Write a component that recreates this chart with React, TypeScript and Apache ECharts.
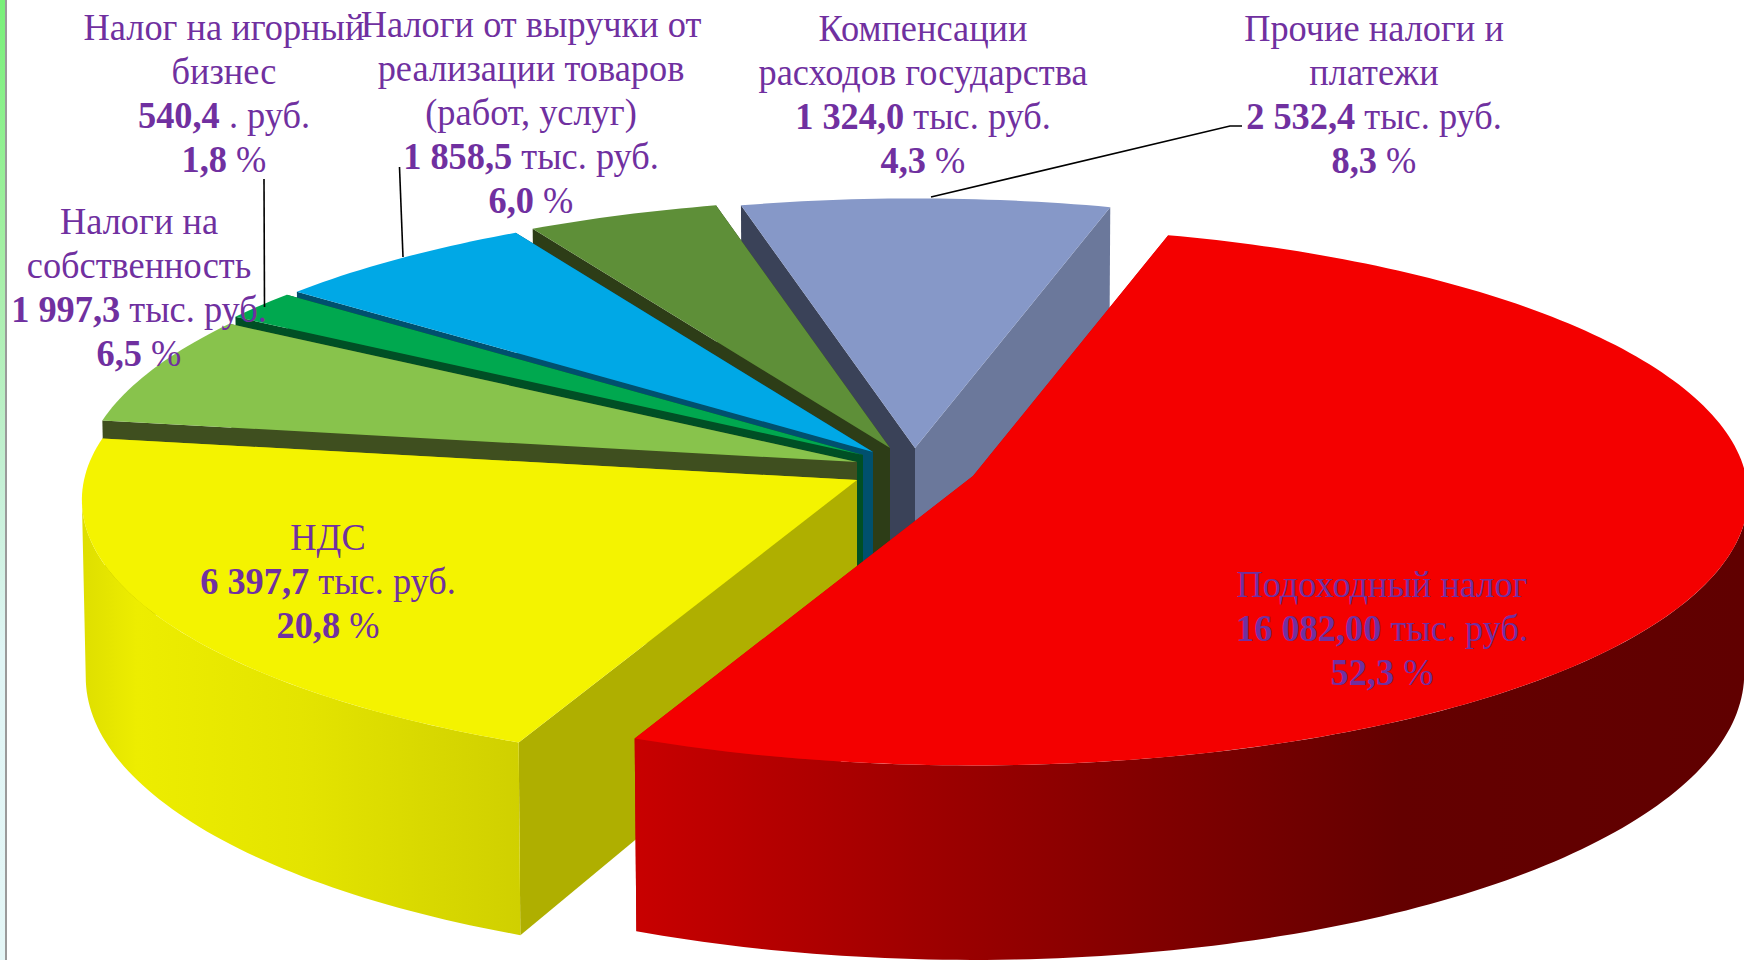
import React, { useEffect, useRef } from "react";
import * as echarts from "echarts";

const categories = [
  "Подоходный налог",
  "НДС",
  "Налоги на собственность",
  "Налог на игорный бизнес",
  "Налоги от выручки от реализации товаров (работ, услуг)",
  "Компенсации расходов государства",
  "Прочие налоги и платежи",
];
const seriesValues = [16082.0, 6397.7, 1997.3, 540.4, 1858.5, 1324.0, 2532.4];
const valueLabels = ["16 082,00", "6 397,7", "1 997,3", "540,4", "1 858,5", "1 324,0", "2 532,4"];
const unitLabels = [" тыс. руб.", " тыс. руб.", " тыс. руб.", " . руб.", " тыс. руб.", " тыс. руб.", " тыс. руб."];
const percentLabels = ["52,3", "20,8", "6,5", "1,8", "6,0", "4,3", "8,3"];
const nameLines = [
  ["Подоходный налог"],
  ["НДС"],
  ["Налоги на", "собственность"],
  ["Налог на игорный", "бизнес"],
  ["Налоги от выручки от", "реализации товаров", "(работ, услуг)"],
  ["Компенсации", "расходов государства"],
  ["Прочие налоги и", "платежи"],
];

// Look of the pie: apex of each exploded slice, and colours
const START_ANGLE = 15.7;
const RX = 773;
const RY = 268;
const PERSPECTIVE = 0.074;
const DEPTH = 176;
const BOTTOM_SHRINK = 0.995;
const EXTREME_SHIFT = 4.2;
const apexes = [[973, 476], [857, 480], [857, 462], [863, 455], [873, 452], [890, 448], [915, 448]];
const topColors = ["#F40000", "#F4F300", "#88C34C", "#00A84F", "#00A8E6", "#5E8F38", "#8698C8"];
const startWallColors = ["#C80000", "#AFAF00", "#3F4F1F", "#004F25", "#00506E", "#2D3D17", "#3A4258"];
const endWallColors = ["#C80000", "#AFAF00", "#3F4F1F", "#004F25", "#00506E", "#2D3D17", "#6B789B"];
const labelCenters = [[1382, 628], [328, 581], [139, 287], [224, 93], [531, 112], [923, 94], [1374, 94]];
const TEXT_SCALE_X = 1.01;
const TEXT_SCALE_Y = 1.08;
const LINE_HEIGHT = 44 / TEXT_SCALE_Y;
const FONT_SIZE = 36;
const TEXT_COLOR = "#7030A0";

const total = seriesValues.reduce((a, b) => a + b, 0);

function project(apex: number[], deg: number) {
  const a = (deg * Math.PI) / 180;
  const v = -Math.cos(a);
  const s = 1 / (1 - PERSPECTIVE * v);
  const x = apex[0] + RX * Math.sin(a) * s;
  return {
    x,
    y: apex[1] + RY * v * s,
    d: DEPTH * Math.pow(s, 1.3),
    bx: apex[0] + (x - apex[0]) * BOTTOM_SHRINK,
  };
}

function arc(apex: number[], from: number, to: number) {
  const pts: ReturnType<typeof project>[] = [];
  const steps = Math.max(6, Math.ceil(to - from));
  for (let k = 0; k <= steps; k++) pts.push(project(apex, from + ((to - from) * k) / steps));
  return pts;
}

function wallFill(i: number) {
  if (i === 0) {
    return new echarts.graphic.LinearGradient(636, 0, 1744, 0, [
      { offset: 0, color: "#C80000" },
      { offset: 0.25, color: "#A00000" },
      { offset: 0.46, color: "#820000" },
      { offset: 0.69, color: "#640000" },
      { offset: 1, color: "#600000" },
    ], true);
  }
  if (i === 1) {
    return new echarts.graphic.LinearGradient(85, 0, 519, 0, [
      { offset: 0, color: "#DFDF00" },
      { offset: 0.12, color: "#EDED00" },
      { offset: 0.5, color: "#E4E400" },
      { offset: 1, color: "#D0D000" },
    ], true);
  }
  return startWallColors[i];
}

function renderSlice(params: any, api: any) {
  const i = params.dataIndex;
  let before = 0;
  for (let k = 0; k < i; k++) before += seriesValues[k];
  const value = api.value(0);
  const a0 = START_ANGLE + (before / total) * 360;
  const a1 = a0 + (value / total) * 360;
  const apex = apexes[i];
  const rim = arc(apex, a0, a1);
  const first = rim[0];
  const last = rim[rim.length - 1];
  const z = (seriesValues.length - i) * 10;
  const poly = (points: number[][], fill: any, z2: number) => ({
    type: "polygon",
    z2,
    shape: { points },
    style: { fill },
    silent: true,
  });
  const children: any[] = [
    poly(
      [[apex[0], apex[1]], [last.x, last.y], [last.bx, last.y + last.d], [apex[0], apex[1] + DEPTH]],
      endWallColors[i],
      z,
    ),
    poly(
      [[apex[0], apex[1]], [first.x, first.y], [first.bx, first.y + first.d], [apex[0], apex[1] + DEPTH]],
      startWallColors[i],
      z + 1,
    ),
  ];
  // the outer wall shows only on the front part of the rim
  const from = Math.max(a0, 90 + EXTREME_SHIFT);
  const to = Math.min(a1, 270 - EXTREME_SHIFT);
  if (to > from) {
    const front = arc(apex, from, to);
    children.push(
      poly(
        [...front.map((p) => [p.x, p.y]), ...front.slice().reverse().map((p) => [p.bx, p.y + p.d])],
        wallFill(i),
        z + 2,
      ),
    );
  }
  children.push(poly([[apex[0], apex[1]], ...rim.map((p) => [p.x, p.y])], topColors[i], z + 3));
  return { type: "group", children };
}

function labelGraphic(i: number) {
  const lines = [
    ...nameLines[i].map((t) => `{r|${t}}`),
    `{b|${valueLabels[i]}}{r|${unitLabels[i]}}`,
    `{b|${percentLabels[i]}}{r| %}`,
  ];
  const rich = {
    r: { fontFamily: "Liberation Serif", fontSize: FONT_SIZE, lineHeight: LINE_HEIGHT, fill: TEXT_COLOR, color: TEXT_COLOR },
    b: { fontFamily: "Liberation Serif", fontSize: FONT_SIZE, lineHeight: LINE_HEIGHT, fontWeight: "bold", fill: TEXT_COLOR, color: TEXT_COLOR },
  };
  return {
    type: "text",
    x: labelCenters[i][0],
    y: labelCenters[i][1],
    scaleX: TEXT_SCALE_X,
    scaleY: TEXT_SCALE_Y,
    z: 20,
    style: {
      text: lines.join("\n"),
      rich,
      align: "center",
      verticalAlign: "middle",
      fill: TEXT_COLOR,
      fontFamily: "Liberation Serif",
      fontSize: FONT_SIZE,
      lineHeight: LINE_HEIGHT,
    },
  };
}

const leaderLines = [
  [[1242, 126], [1230, 126], [931, 197]],
  [[399.5, 167], [403, 257]],
  [[264, 179], [264.5, 307]],
];

export default function App() {
  const ref = useRef<HTMLDivElement>(null);
  useEffect(() => {
    document.body.style.margin = "0";
    const chart = echarts.init(ref.current!, undefined, { renderer: "svg" });
    chart.setOption({
      animation: false,
      backgroundColor: "#FFFFFF",
      series: [
        {
          type: "custom",
          coordinateSystem: "none",
          renderItem: renderSlice,
          data: seriesValues.map((value, i) => ({ name: categories[i], value: [value] })),
          z: 2,
        },
      ],
      graphic: [
        {
          type: "rect",
          shape: { x: 0, y: 0, width: 5, height: 960 },
          style: {
            fill: new echarts.graphic.LinearGradient(0, 0, 0, 1, [
              { offset: 0, color: "#78F078" },
              { offset: 0.27, color: "#A5EFA5" },
              { offset: 0.5, color: "#C5F0D5" },
              { offset: 0.68, color: "#E0F5F5" },
              { offset: 1, color: "#E4F6F6" },
            ]),
          },
        },
        { type: "rect", shape: { x: 5, y: 0, width: 2, height: 960 }, style: { fill: "#9A9A9A" } },
        ...leaderLines.map((points) => ({
          type: "polyline",
          z: 10,
          shape: { points },
          style: { stroke: "#000000", lineWidth: 1.6, fill: "none" },
        })),
        ...seriesValues.map((_, i) => labelGraphic(i)),
      ],
    });
    return () => chart.dispose();
  }, []);
  return <div ref={ref} style={{ position: "absolute", left: 0, top: 0, width: 1744, height: 960 }} />;
}
